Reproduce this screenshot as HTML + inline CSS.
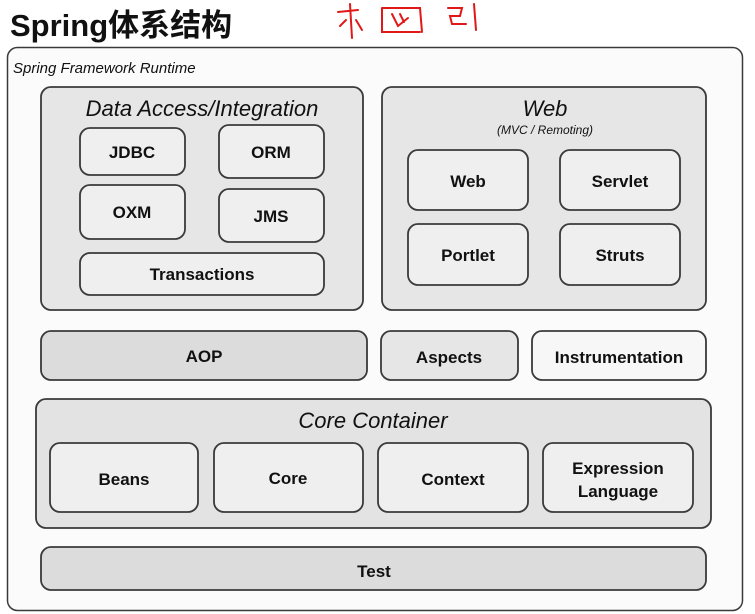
<!DOCTYPE html>
<html><head><meta charset="utf-8"><style>
html,body{margin:0;padding:0;background:#fff;width:755px;height:614px;overflow:hidden}
svg{display:block}
text{font-family:"Liberation Sans","Noto Sans CJK SC",sans-serif;fill:#111}
.b{font-weight:bold;font-size:17px;text-anchor:middle}
.i{font-style:italic;font-size:22px;text-anchor:middle}
</style></head><body>
<svg width="755" height="614" viewBox="0 0 755 614">
<text x="10" y="36" style="font-size:31px;font-weight:bold;fill:#111">Spring体系结构</text>
<g stroke="#e01818" stroke-width="2" fill="none" stroke-linecap="round">
<path d="M338 12 L358 10 M350 4 L352 38 M340 26 L346 20 M356 20 L362 30"/>
<path d="M382 8 L382 32 L420 32 M382 8 L420 8 L422 32 M392 14 L398 26 L408 18 M400 14 L404 22"/>
<path d="M448 8 L462 8 L460 16 L450 16 L452 24 L466 24 M474 4 L476 30"/>
</g>
<rect x="7.5" y="47.5" width="735" height="563" rx="10" fill="#fbfbfb" stroke="#3a3a3a" stroke-width="1.5"/>
<text x="13" y="73" style="font-style:italic;font-size:15px">Spring Framework Runtime</text>

<g stroke="#3a3a3a" stroke-width="1.8">
<rect x="41" y="87" width="322" height="223" rx="10" fill="#e6e6e6"/>
<rect x="382" y="87" width="324" height="223" rx="10" fill="#e6e6e6"/>
<rect x="80" y="128" width="105" height="47" rx="10" fill="#f0eff0"/>
<rect x="219" y="125" width="105" height="53" rx="10" fill="#f0eff0"/>
<rect x="80" y="185" width="105" height="54" rx="10" fill="#f0eff0"/>
<rect x="219" y="189" width="105" height="53" rx="10" fill="#f0eff0"/>
<rect x="80" y="253" width="244" height="42" rx="10" fill="#f0eff0"/>
<rect x="408" y="150" width="120" height="60" rx="10" fill="#f0eff0"/>
<rect x="560" y="150" width="120" height="60" rx="10" fill="#f0eff0"/>
<rect x="408" y="224" width="120" height="61" rx="10" fill="#f0eff0"/>
<rect x="560" y="224" width="120" height="61" rx="10" fill="#f0eff0"/>
<rect x="41" y="331" width="326" height="49" rx="10" fill="#dcdcdc"/>
<rect x="381" y="331" width="137" height="49" rx="10" fill="#e6e6e6"/>
<rect x="532" y="331" width="174" height="49" rx="10" fill="#f7f7f7"/>
<rect x="36" y="399" width="675" height="129" rx="10" fill="#e3e3e3"/>
<rect x="50" y="443" width="148" height="69" rx="10" fill="#f0eff0"/>
<rect x="214" y="443" width="149" height="69" rx="10" fill="#f0eff0"/>
<rect x="378" y="443" width="150" height="69" rx="10" fill="#f0eff0"/>
<rect x="543" y="443" width="150" height="69" rx="10" fill="#f0eff0"/>
<rect x="41" y="547" width="665" height="43" rx="10" fill="#dcdcdc"/>
</g>

<text class="i" x="202" y="116">Data Access/Integration</text>
<text class="i" x="545" y="116">Web</text>
<text x="545" y="134" style="font-style:italic;font-size:12px;text-anchor:middle">(MVC / Remoting)</text>
<text class="b" x="132" y="158">JDBC</text>
<text class="b" x="271" y="158">ORM</text>
<text class="b" x="132" y="218">OXM</text>
<text class="b" x="271" y="222">JMS</text>
<text class="b" x="202" y="280">Transactions</text>
<text class="b" x="468" y="187">Web</text>
<text class="b" x="620" y="187">Servlet</text>
<text class="b" x="468" y="261">Portlet</text>
<text class="b" x="620" y="261">Struts</text>
<text class="b" x="204" y="362">AOP</text>
<text class="b" x="449" y="363">Aspects</text>
<text class="b" x="619" y="363">Instrumentation</text>
<text class="i" x="373" y="428">Core Container</text>
<text class="b" x="124" y="485">Beans</text>
<text class="b" x="288" y="484">Core</text>
<text class="b" x="453" y="485">Context</text>
<text class="b" x="618" y="474">Expression</text>
<text class="b" x="618" y="497">Language</text>
<text class="b" x="374" y="577">Test</text>
</svg>
</body></html>
